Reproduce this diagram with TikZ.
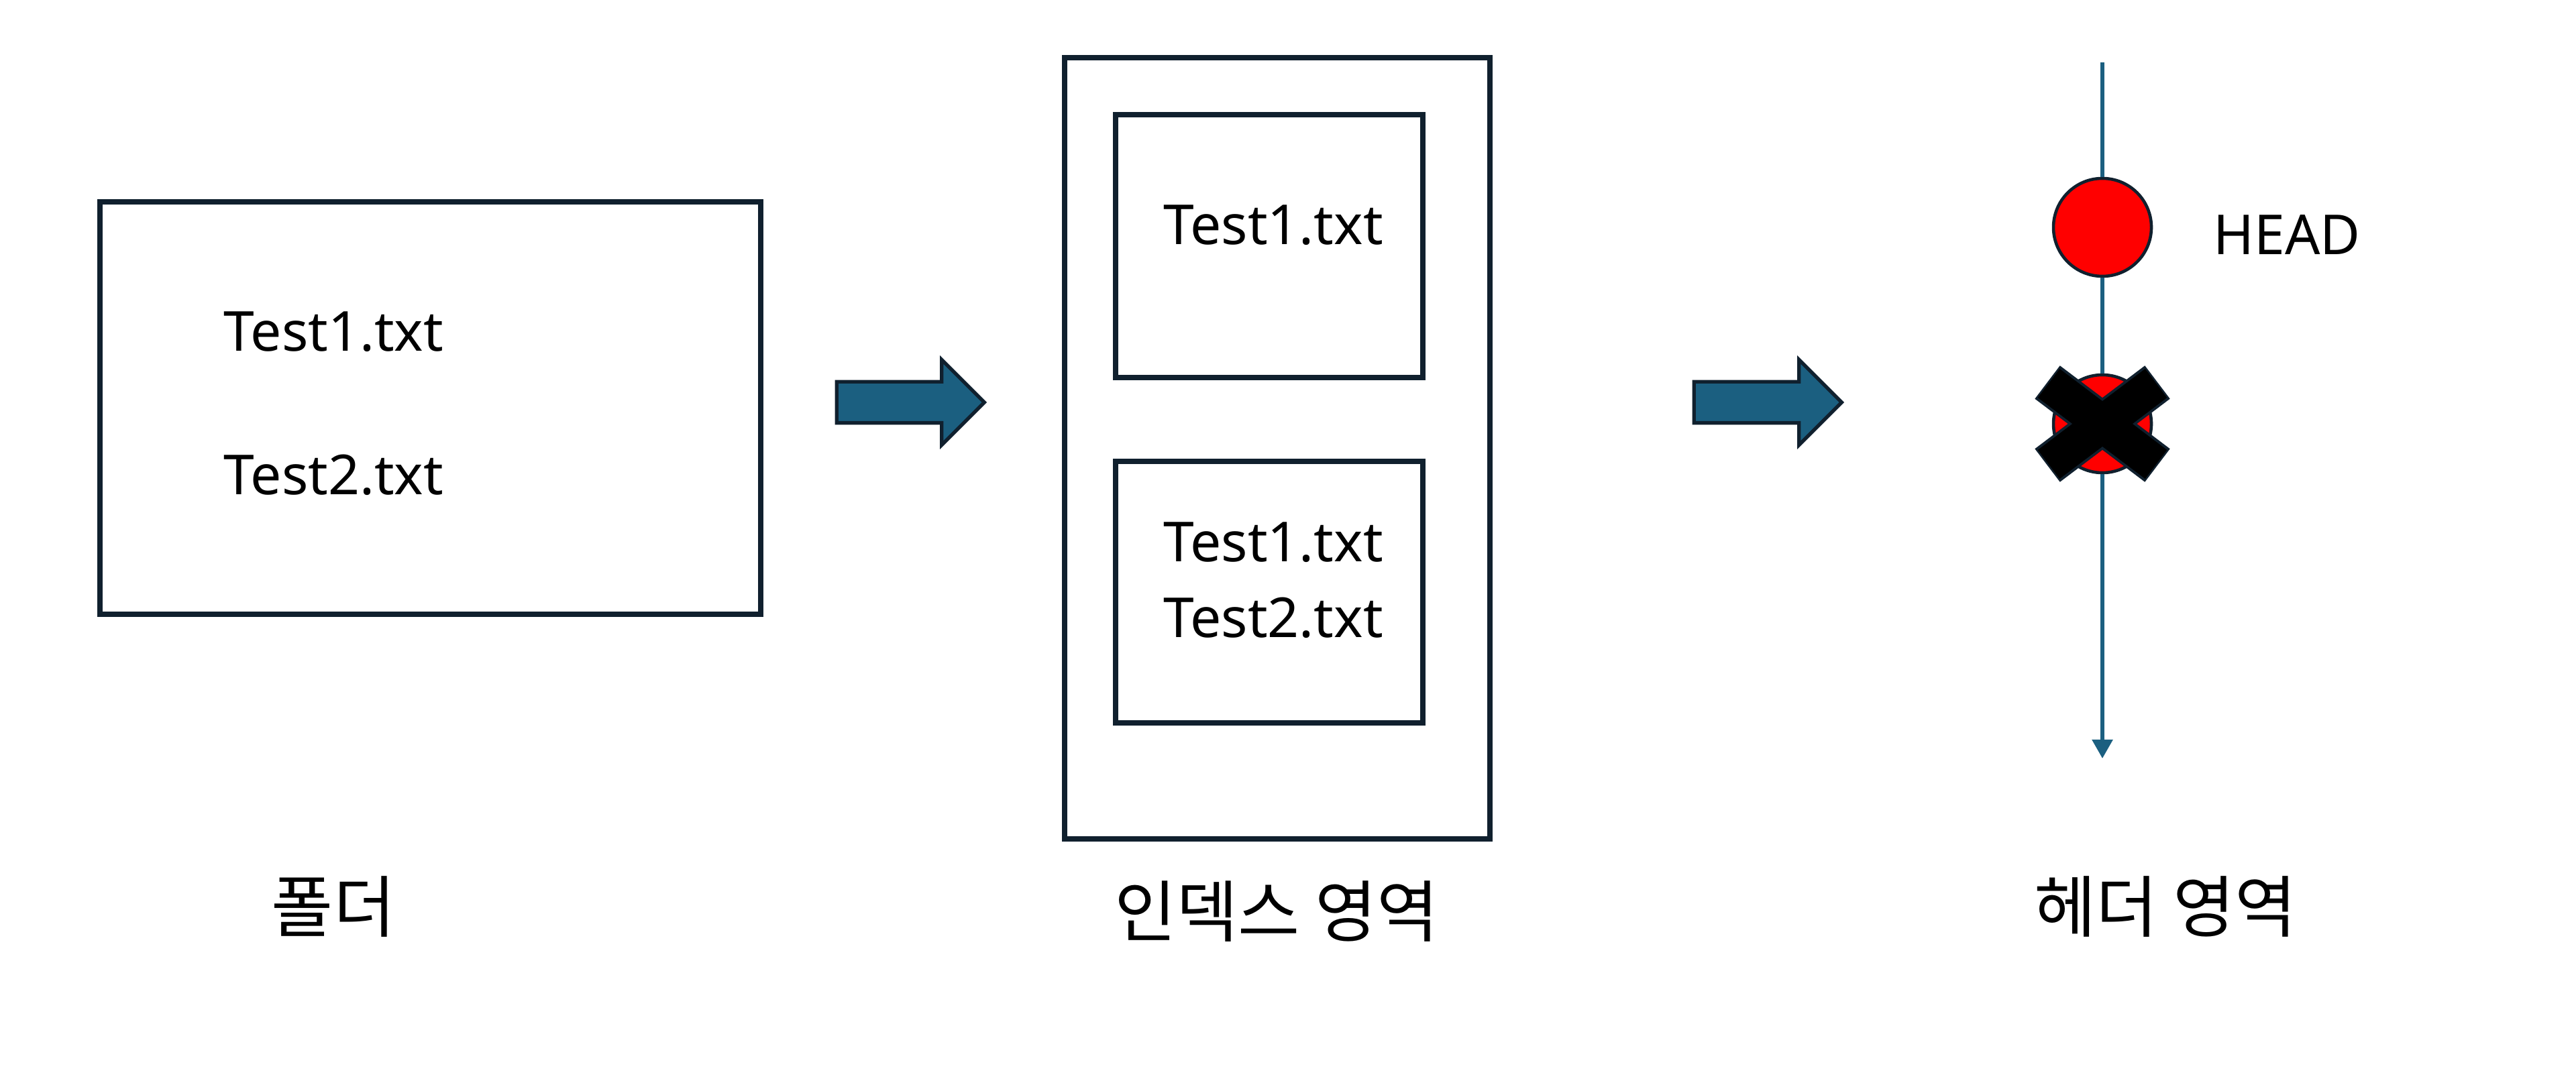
\documentclass[tikz,border=0pt]{standalone}
\usepackage{fontspec}
\setmainfont{Noto Sans}
\newfontfamily\krfont{Noto Sans CJK KR}
\usetikzlibrary{arrows.meta, shapes.arrows}
\definecolor{arrowblue}{HTML}{1B5F80}
\definecolor{edgenavy}{HTML}{10202E}
\definecolor{headred}{HTML}{FF0000}

\begin{document}
\begin{tikzpicture}[
    box/.style={
        draw=edgenavy,
        line width=2.2pt,
        inner sep=0pt
    },
    filename/.style={
        font=\fontsize{23.4}{32}\selectfont,
        align=center,
        inner sep=0pt
    },
    caption/.style={
        font=\krfont\fontsize{28.5}{32}\selectfont,
        inner sep=0pt
    },
    blockarrow/.style={
        single arrow,
        draw=edgenavy,
        fill=arrowblue,
        line width=1.5pt,
        minimum height=2.2cm,
        single arrow head extend=0.33cm,
        inner xsep=0pt,
        inner ysep=0.28cm
    },
    commit/.style={
        circle,
        draw=edgenavy,
        fill=headred,
        line width=1.3pt,
        minimum size=1.46cm,
        inner sep=0pt
    },
    timeline/.style={
        draw=arrowblue,
        line width=1.6pt
    }
]
\useasboundingbox (0,0) rectangle (38.4,-16.15);

% folder
\node[box, minimum width=9.85cm, minimum height=6.15cm] (folder) at (6.415,-6.085) {};
\node[filename, anchor=west] (folderone) at (3.33,-4.95) {Test1.txt};
\node[filename, anchor=west] (foldertwo) at (3.33,-7.08) {Test2.txt};
\node[caption] (foldercap) at (4.97,-13.52) {폴더};

\node[blockarrow] (toindex) at (13.42,-6.0) {};

% index area
\node[box, minimum width=6.34cm, minimum height=11.65cm] (index) at (19.04,-6.685) {};
\node[box, minimum width=4.58cm, minimum height=3.92cm] (stageone) at (18.92,-3.67) {};
\node[box, minimum width=4.58cm, minimum height=3.90cm] (stagetwo) at (18.92,-8.83) {};
\node[filename] (stageonetext) at (18.98,-3.36) {Test1.txt};
\node[filename] (stagetwotext) at (18.98,-8.65) {Test1.txt\\Test2.txt};
\node[caption] (indexcap) at (19.03,-13.59) {인덱스 영역};

\node[blockarrow] (tohead) at (26.2,-6.0) {};

% header area
\coordinate (linetop) at (31.34,-0.93);
\coordinate (linebottom) at (31.34,-11.31);
\node[commit] (head) at (31.34,-3.39) {};
\node[commit] (gone) at (31.34,-6.32) {};
\draw[timeline] (linetop) -- (head);
\draw[timeline] (head) -- (gone);
\draw[timeline, -{Triangle[width=0.3cm, length=0.28cm]}] (gone) -- (linebottom);
\node[filename, anchor=west] (headtext) at (32.99,-3.5) {HEAD};

\draw[edgenavy, line width=0.62cm]
  ([shift={(-0.82,0.62)}]gone.center) -- ([shift={(0.82,-0.62)}]gone.center)
  ([shift={(-0.82,-0.62)}]gone.center) -- ([shift={(0.82,0.62)}]gone.center);
\draw[black, line width=0.54cm]
  ([shift={(-0.80,0.605)}]gone.center) -- ([shift={(0.80,-0.605)}]gone.center)
  ([shift={(-0.80,-0.605)}]gone.center) -- ([shift={(0.80,0.605)}]gone.center);

\node[caption] (headcap) at (32.28,-13.52) {헤더 영역};

\end{tikzpicture}
\end{document}
